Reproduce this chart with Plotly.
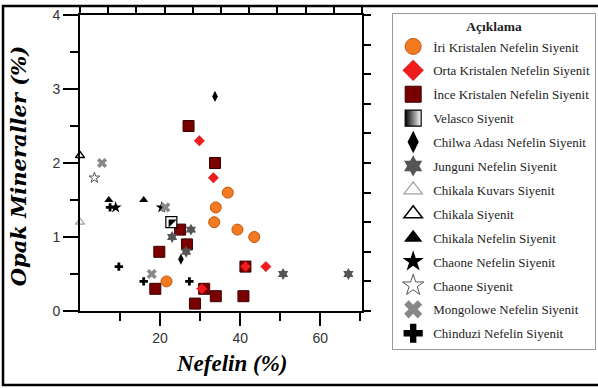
import plotly.graph_objects as go

# ---------------- data ----------------
iri_x = [21.6, 33.5, 33.9, 36.9, 39.3, 43.5]
iri_y = [0.4, 1.2, 1.4, 1.6, 1.1, 1.0]

orta_x = [29.8, 33.3, 30.4, 41.3, 46.4]
orta_y = [2.3, 1.8, 0.3, 0.6, 0.6]

ince_x = [27.1, 33.7, 25.0, 26.7, 19.8, 18.8, 31.0, 33.9, 28.7, 40.8, 41.3]
ince_y = [2.5, 2.0, 1.1, 0.9, 0.8, 0.3, 0.3, 0.2, 0.1, 0.2, 0.6]

velasco_x = [22.8]
velasco_y = [1.2]

chilwa_x = [33.7, 25.2]
chilwa_y = [2.9, 0.7]

junguni_x = [27.7, 23.0, 26.5, 50.7, 67.0]
junguni_y = [1.1, 1.0, 0.8, 0.5, 0.5]

kuvars_x = [0.0]
kuvars_y = [1.2]

chikala_x = [0.0]
chikala_y = [2.1]

chikala_nef_x = [7.2, 15.9]
chikala_nef_y = [1.5, 1.5]

chaone_nef_x = [8.9, 20.4]
chaone_nef_y = [1.4, 1.4]

chaone_x = [3.6]
chaone_y = [1.8]

mongolowe_x = [5.5, 21.3, 17.9]
mongolowe_y = [2.0, 1.4, 0.5]

chinduzi_x = [7.5, 9.7, 15.9, 27.3]
chinduzi_y = [1.4, 0.6, 0.4, 0.4]

x_ticks = [20, 40, 60]
y_ticks = [0, 1, 2, 3, 4]

# ---------------- styles ----------------
series = [
    ("İri Kristalen Nefelin Siyenit", iri_x, iri_y,
     dict(symbol="circle", size=11, color="#F47A20", line=dict(color="#C0560E", width=1))),
    ("Orta Kristalen Nefelin Siyenit", orta_x, orta_y,
     dict(symbol="diamond", size=8, color="#EE1C1C", line=dict(color="#D01010", width=0.5))),
    ("İnce Kristalen Nefelin Siyenit", ince_x, ince_y,
     dict(symbol="square", size=11, color="#7A0000", line=dict(color="#3A0000", width=1))),
    ("Velasco Siyenit", velasco_x, velasco_y, None),
    ("Chilwa Adası Nefelin Siyenit", chilwa_x, chilwa_y,
     dict(symbol="diamond-tall", size=8, color="black", line=dict(width=0))),
    ("Junguni Nefelin Siyenit", junguni_x, junguni_y,
     dict(symbol="hexagram", size=9, color="#555555", line=dict(width=0))),
    ("Chikala Kuvars Siyenit", kuvars_x, kuvars_y,
     dict(symbol="triangle-up-open", size=8, color="#A0A0A0", line=dict(width=1.2))),
    ("Chikala Siyenit", chikala_x, chikala_y,
     dict(symbol="triangle-up-open", size=8, color="black", line=dict(width=1.5))),
    ("Chikala Nefelin Siyenit", chikala_nef_x, chikala_nef_y,
     dict(symbol="triangle-up", size=8, color="black", line=dict(width=0))),
    ("Chaone Nefelin Siyenit", chaone_nef_x, chaone_nef_y,
     dict(symbol="star", size=9, color="black", line=dict(width=0))),
    ("Chaone Siyenit", chaone_x, chaone_y,
     dict(symbol="star-open", size=8, color="#555555", line=dict(width=1))),
    ("Mongolowe Nefelin Siyenit", mongolowe_x, mongolowe_y,
     dict(symbol="x", size=9, color="#888888", line=dict(width=0))),
    ("Chinduzi Nefelin Siyenit", chinduzi_x, chinduzi_y,
     dict(symbol="cross", size=7, color="black", line=dict(width=0))),
]

fig = go.Figure()

# data traces (draw order chosen so diamonds sit on top of squares)
draw_order = [2, 0, 1, 3, 4, 5, 6, 7, 8, 9, 10, 11, 12]
for i in draw_order:
    name, xs, ys, mk = series[i]
    if mk is None:
        fig.add_trace(go.Scatter(x=xs, y=ys, mode="markers", showlegend=False, cliponaxis=False,
                                 marker=dict(symbol="square", size=11, color="white",
                                             line=dict(color="black", width=1.2))))
        fig.add_trace(go.Scatter(x=xs, y=ys, mode="markers", showlegend=False, cliponaxis=False,
                                 marker=dict(symbol="triangle-nw", size=9, color="black",
                                             line=dict(width=0))))
    else:
        fig.add_trace(go.Scatter(x=xs, y=ys, mode="markers", showlegend=False, cliponaxis=False,
                                 marker=mk))

# legend entries (larger symbols)
for k, (name, xs, ys, mk) in enumerate(series):
    if mk is None:
        lm = dict(symbol="square", size=16, color="black",
                  gradient=dict(type="horizontal", color="white"),
                  line=dict(color="black", width=1.2))
    else:
        lm = dict(mk)
        lm["size"] = 16
    fig.add_trace(go.Scatter(x=[None], y=[None], mode="markers", name=name,
                             legendgroup="g%d" % k, marker=lm))

# axis scaffolding for top/right ticks
fig.add_trace(go.Scatter(x=[None], y=[None], xaxis="x2", yaxis="y2", showlegend=False))

axis_common = dict(showgrid=False, zeroline=False, showline=True, linecolor="black",
                   linewidth=2, ticks="outside", tickcolor="black", tickwidth=2)

fig.update_layout(
    width=598, height=388,
    margin=dict(l=80, r=236, t=15, b=77, autoexpand=False),
    plot_bgcolor="white", paper_bgcolor="white",
    xaxis=dict(range=[0, 70.4], tickvals=x_ticks, ticklen=13,
               tickfont=dict(family="Liberation Sans", size=14, color="#333333"),
               minor=dict(tickvals=[10, 30, 50, 70], ticklen=8, tickwidth=2,
                          tickcolor="black", ticks="outside"),
               **axis_common),
    yaxis=dict(range=[0, 4], tickvals=y_ticks, ticklen=15,
               tickfont=dict(family="Liberation Sans", size=14, color="#333333"),
               minor=dict(dtick=0.5, ticklen=8, tickwidth=2, tickcolor="black", ticks="outside"),
               **axis_common),
    xaxis2=dict(overlaying="x", anchor="y", side="top", range=[0, 10], dtick=1, ticklen=6,
                showticklabels=False, **axis_common),
    yaxis2=dict(overlaying="y", anchor="x", side="right", range=[0, 10], dtick=1, ticklen=7,
                showticklabels=False, **axis_common),
    legend=dict(x=1.107, y=1.007, xanchor="left", yanchor="top", maxheight=380,
                traceorder="grouped", tracegroupgap=4,
                bordercolor="#9a9a9a", borderwidth=1, bgcolor="white",
                font=dict(family="Liberation Serif", size=13, color="#222222"),
                title=dict(text="<b>Açıklama</b>", side="top center",
                           font=dict(family="Liberation Serif", size=13.5, color="#222222"))),
    annotations=[
        dict(text="Nefelin (%)", x=0.54, y=-0.176, xref="paper", yref="paper",
             xanchor="center", yanchor="middle", showarrow=False,
             font=dict(family="Liberation Serif", size=23, color="black",
                       weight="bold", style="italic")),
        dict(text="Opak Mineraller (%)", x=-0.215, y=0.49, xref="paper", yref="paper",
             xanchor="center", yanchor="middle", showarrow=False, textangle=-90,
             font=dict(family="DejaVu Serif", size=21, color="black",
                       weight="bold", style="italic")),
    ],
    shapes=[
        dict(type="rect", xref="paper", yref="paper",
             x0=-0.273, x1=1.85, y0=-0.25, y1=1.030,
             line=dict(color="black", width=2.5), layer="below"),
    ],
)

fig.write_html("out.html")
